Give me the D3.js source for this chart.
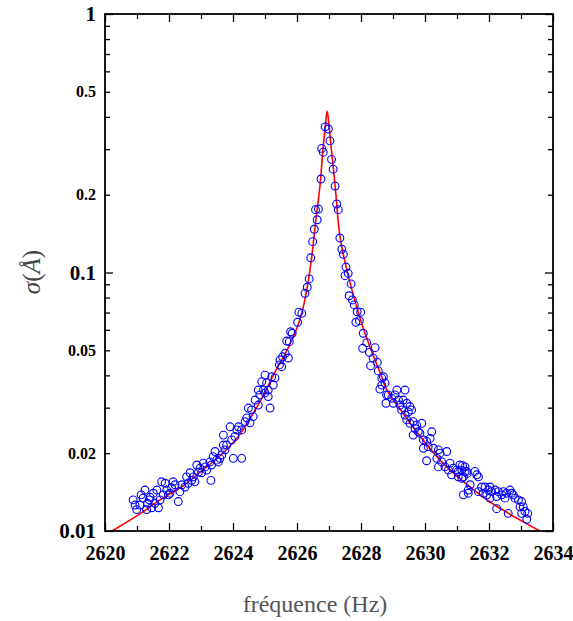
<!DOCTYPE html>
<html><head><meta charset="utf-8">
<script src="https://cdn.jsdelivr.net/npm/d3@7/dist/d3.min.js"></script>
<style>body{margin:0;background:#fff}svg{display:block}</style>
</head><body><svg id="c" width="573" height="621"></svg>
<script>
// measured points: frequency (Hz) and sigma (Å)
const freq = [
2620.88,2620.94,2620.99,2621.09,2621.13,2621.19,2621.25,2621.30,2621.33,2621.38,2621.41,2621.46,2621.51,2621.56,2621.62,2621.67,2621.72,2621.77,2621.82,2621.88,
2621.93,2621.98,2622.03,2622.08,2622.13,2622.19,2622.29,2622.34,2622.40,2622.50,2622.55,2622.60,2622.66,2622.71,2622.76,2622.81,2622.87,2622.92,2622.97,2623.02,
2623.07,2623.13,2623.18,2623.28,2623.31,2623.33,2623.38,2623.44,2623.49,2623.54,2623.59,2623.65,2623.70,2623.70,2623.75,2623.80,2623.91,2623.96,2624.01,2624.06,
2624.12,2624.17,2624.27,2624.27,2624.38,2624.43,2624.48,2624.53,2624.58,2624.63,2624.69,2624.79,2624.79,2624.84,2624.90,2624.95,2625.00,2625.00,2625.05,2625.10,
2625.10,2625.16,2625.21,2625.26,2625.31,2625.45,2625.47,2625.52,2625.55,2625.63,2625.68,2625.73,2625.76,2625.80,2625.85,2626.02,2626.06,2626.15,2626.25,2626.32,
2626.38,2626.43,2626.49,2626.54,2626.58,2626.63,2626.67,2626.75,2626.77,2626.82,2626.88,2626.98,
2627.03,2627.08,2627.13,2627.19,2627.24,2627.29,2627.34,2627.40,2627.45,2627.50,2627.53,2627.60,2627.63,2627.69,2627.73,2627.79,2627.84,2627.88,2627.95,2627.99,
2628.05,2628.07,2628.18,2628.26,2628.30,2628.38,2628.44,2628.51,2628.54,2628.59,2628.65,2628.65,2628.70,2628.75,2628.78,2628.80,2628.85,2628.96,2629.01,2629.06,
2629.12,2629.17,2629.22,2629.27,2629.32,2629.375,2629.375,2629.43,2629.43,2629.48,2629.53,2629.53,2629.58,2629.63,2629.63,2629.69,2629.74,2629.79,2629.84,2629.90,
2629.95,2629.95,2630.05,2630.05,2630.10,2630.16,2630.21,2630.26,2630.37,2630.42,2630.42,2630.47,2630.52,2630.625,2630.68,2630.73,2630.78,2630.83,2630.88,2630.99,
2631.04,2631.04,2631.09,2631.15,2631.15,2631.17,2631.20,2631.20,2631.25,2631.25,2631.30,2631.32,2631.35,2631.35,2631.41,2631.56,2631.62,2631.67,2631.67,2631.77,
2631.82,2631.875,2631.93,2631.98,2632.03,2632.03,2632.08,2632.19,2632.24,2632.24,2632.29,2632.40,2632.45,2632.50,2632.55,2632.60,2632.66,2632.71,2632.76,2632.81,
2632.92,2632.97,2633.02,2633.02,2633.07,2633.125,2633.18,2633.21
];
const sigma = [
0.0132,0.0126,0.0121,0.0126,0.0138,0.0134,0.0144,0.0121,0.0128,0.0132,0.0135,0.0123,0.0140,0.0128,0.0144,0.0123,0.0132,0.0155,0.0138,0.0153,
0.0144,0.0138,0.0140,0.0147,0.0155,0.0151,0.0130,0.0142,0.0151,0.0148,0.0162,0.0153,0.0168,0.0157,0.0162,0.0155,0.0180,0.0169,0.0175,0.0168,
0.0183,0.0177,0.0172,0.0185,0.0157,0.0180,0.0194,0.0203,0.0188,0.0185,0.0191,0.0197,0.0215,0.0235,0.0206,0.0215,0.0253,0.0225,0.0191,0.0232,
0.0246,0.0253,0.0246,0.0191,0.0265,0.0274,0.0299,0.0262,0.0294,0.0277,0.0321,0.0351,0.0307,0.0336,0.0378,0.0351,0.0401,0.0342,0.0374,0.0351,
0.0331,0.0299,0.0395,0.0367,0.0391,0.0439,0.0459,0.0432,0.0472,0.0487,0.0543,0.0467,0.0540,0.0590,0.0582,0.0642,0.0702,0.0695,0.0831,0.0877,
0.0944,0.114,0.1316,0.147,0.175,0.160,0.176,0.230,0.302,0.292,0.366,0.359,
0.323,0.274,0.251,0.216,0.184,0.175,0.136,0.123,0.1176,0.0972,0.105,0.0993,0.0813,0.0903,0.0783,0.0749,0.0642,0.0705,0.0651,0.0702,
0.0509,0.0582,0.0535,0.0491,0.0436,0.0466,0.0512,0.0449,0.0416,0.0354,0.0390,0.0367,0.0395,0.0374,0.0312,0.0336,0.0336,0.0326,0.0312,0.0336,
0.0351,0.0321,0.0307,0.0294,0.0321,0.0351,0.0281,0.0312,0.0269,0.0289,0.0303,0.0261,0.0294,0.0265,0.0235,0.0249,0.0257,0.0242,0.0239,0.0261,
0.0225,0.0209,0.0222,0.0187,0.0212,0.0228,0.0242,0.0209,0.0191,0.0206,0.0177,0.0200,0.0185,0.0177,0.0203,0.0172,0.0183,0.0165,0.0175,0.0172,
0.0162,0.0170,0.0180,0.0172,0.0160,0.0179,0.0162,0.0138,0.0177,0.0170,0.0170,0.0167,0.0144,0.0140,0.0151,0.0170,0.0165,0.0162,0.0142,0.0148,
0.0140,0.0148,0.0138,0.0144,0.0148,0.0134,0.0142,0.0144,0.0136,0.0122,0.0142,0.0138,0.0142,0.0134,0.0140,0.0117,0.0144,0.0140,0.0138,0.0134,
0.0132,0.0124,0.0130,0.0117,0.0124,0.0119,0.0111,0.0117
];
// fitted resonance curve
const fitFreq = [2620.22,2621.09,2621.72,2622.41,2622.97,2623.59,2624.22,2624.84,2625.31,2625.66,2625.94,2626.16,2626.31,2626.44,2626.59,2626.72,2626.81,2626.88,2626.94,
2627.00,2627.06,2627.13,2627.22,2627.34,2627.53,2627.72,2627.97,2628.28,2628.59,2628.81,2629.31,2629.84,2630.56,2631.25,2632.03,2632.59,2633.13,2633.59];
const fitSigma = [0.0100,0.01164,0.0132,0.01486,0.0169,0.0195,0.0237,0.0316,0.0412,0.0493,0.0583,0.0704,0.0863,0.1098,0.1596,0.218,0.298,0.362,0.421,
0.372,0.311,0.258,0.198,0.1384,0.1059,0.0855,0.0667,0.0515,0.0412,0.0351,0.0286,0.0233,0.0183,0.01534,0.01295,0.01175,0.01075,0.0100];

const xTicks = [2620,2622,2624,2626,2628,2630,2632,2634];
const xMinor = [2621,2623,2625,2627,2629,2631,2633];
const yTicks = [1,0.5,0.2,0.1,0.05,0.02,0.01];
const yTickLabels = ["1","0.5","0.2","0.1","0.05","0.02","0.01"];
const yMinor = [0.02,0.03,0.04,0.05,0.06,0.07,0.08,0.09,0.2,0.3,0.4,0.5,0.6,0.7,0.8,0.9];
const yDecades = [0.01,0.1,1];
const xTitle = "fréquence (Hz)";

const L=105,R=553,T=14,B=531;
const svg = d3.select('#c');
const x = d3.scaleLinear().domain([2620,2634]).range([L,R]);
const y = d3.scaleLog().domain([0.01,1]).range([B,T]);

svg.append('clipPath').attr('id','clip').append('rect')
  .attr('x',L).attr('y',T).attr('width',R-L).attr('height',B-T);

const fit = fitFreq.map((f,i)=>[f,fitSigma[i]]);
svg.append('path').datum(fit).attr('clip-path','url(#clip)')
  .attr('fill','none').attr('stroke','#ff0000').attr('stroke-width',1.6)
  .attr('d',d3.line().x(d=>x(d[0])).y(d=>y(d[1])).curve(d3.curveCatmullRom.alpha(0.5)));

svg.append('g').selectAll('circle').data(freq.map((f,i)=>[f,sigma[i]])).join('circle')
  .attr('cx',d=>x(d[0])).attr('cy',d=>y(d[1])).attr('r',3.9)
  .attr('fill','none').attr('stroke','#0000ff').attr('stroke-width',1.1);

function styleAxis(g){ g.select('.domain').remove(); g.selectAll('line').attr('stroke','#000').attr('stroke-width',1.3); }
const tickFont = g => g.selectAll('text').attr('font-family','Liberation Serif').attr('font-weight','bold').attr('fill','#000');

// bottom
svg.append('g').attr('transform',`translate(0,${B})`)
  .call(d3.axisBottom(x).tickValues(xTicks).tickSize(-8).tickPadding(15).tickFormat(d3.format('d')))
  .call(styleAxis).call(tickFont).call(g=>g.selectAll('text').attr('font-size',20));
svg.append('g').attr('transform',`translate(0,${B})`)
  .call(d3.axisBottom(x).tickValues(xMinor).tickSize(-5).tickFormat('')).call(styleAxis);
// top
svg.append('g').attr('transform',`translate(0,${T})`)
  .call(d3.axisTop(x).tickValues(xTicks).tickSize(-8).tickFormat('')).call(styleAxis);
svg.append('g').attr('transform',`translate(0,${T})`)
  .call(d3.axisTop(x).tickValues(xMinor).tickSize(-5).tickFormat('')).call(styleAxis);
// left
svg.append('g').attr('transform',`translate(${L},0)`)
  .call(d3.axisLeft(y).tickValues(yTicks).tickSize(0).tickPadding(9).tickFormat((d,i)=>yTickLabels[i]))
  .call(styleAxis).call(tickFont)
  .call(g=>g.selectAll('text').attr('font-size',d=>yDecades.includes(d)?21:16));
svg.append('g').attr('transform',`translate(${L},0)`)
  .call(d3.axisLeft(y).tickValues(yMinor).tickSize(-5).tickFormat('')).call(styleAxis);
svg.append('g').attr('transform',`translate(${L},0)`)
  .call(d3.axisLeft(y).tickValues(yDecades).tickSize(-8).tickFormat('')).call(styleAxis);
// right
svg.append('g').attr('transform',`translate(${R},0)`)
  .call(d3.axisRight(y).tickValues(yMinor).tickSize(-5).tickFormat('')).call(styleAxis);
svg.append('g').attr('transform',`translate(${R},0)`)
  .call(d3.axisRight(y).tickValues(yDecades).tickSize(-8).tickFormat('')).call(styleAxis);

// frame
svg.append('rect').attr('x',L).attr('y',T).attr('width',R-L).attr('height',B-T)
  .attr('fill','none').attr('stroke','#000').attr('stroke-width',1.8);

// titles
svg.append('text').attr('x',(L+R)/2-14).attr('y',612).attr('text-anchor','middle')
  .attr('font-family','Liberation Serif').attr('font-size',24).attr('fill','#555').text(xTitle);
const yt = svg.append('text').attr('transform','translate(40,272) rotate(-90)').attr('text-anchor','middle')
  .attr('font-family','Liberation Serif').attr('font-size',25).attr('fill','#444');
yt.append('tspan').attr('font-style','italic').text('σ');
yt.append('tspan').text('(');
yt.append('tspan').attr('font-style','italic').text('Å');
yt.append('tspan').text(')');
</script></body></html>
